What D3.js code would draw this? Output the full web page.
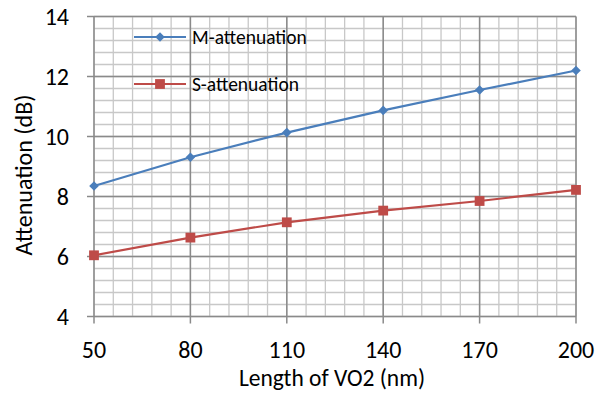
<!DOCTYPE html>
<html>
<head>
<meta charset="utf-8">
<script src="https://cdn.jsdelivr.net/npm/d3@7"></script>
<style>
  html, body { margin: 0; padding: 0; background: #fff; }
  svg text { font-family: Carlito, "Open Sans", "Noto Sans", sans-serif; fill: #000; }
</style>
</head>
<body>
<svg id="chart" width="598" height="394"></svg>
<script>
// data
const lengths = [50, 80, 110, 140, 170, 200];
const mAttenuation = [8.35, 9.31, 10.13, 10.87, 11.55, 12.2];
const sAttenuation = [6.04, 6.63, 7.14, 7.53, 7.85, 8.22];
const xTicks = [50, 80, 110, 140, 170, 200];
const yTicks = [4, 6, 8, 10, 12, 14];
const seriesNames = ["M-attenuation", "S-attenuation"];

const svg = d3.select("#chart");

// plot area
const x = d3.scaleLinear().domain([50, 200]).range([94, 576]);
const y = d3.scaleLinear().domain([4, 14]).range([316.5, 16.5]);

const grid = svg.append("g");

// minor grid (every 6 nm / 0.4 dB)
const xMinor = d3.range(50, 200.001, 6);
const yMinor = d3.range(4, 14.001, 0.4);
grid.selectAll(".xminor")
    .data(xMinor)
    .enter().append("line")
    .attr("x1", d => x(d)).attr("x2", d => x(d))
    .attr("y1", y(4)).attr("y2", y(14))
    .attr("stroke", "#c8c8c8").attr("stroke-width", 1.3);
grid.selectAll(".yminor")
    .data(yMinor)
    .enter().append("line")
    .attr("x1", x(50)).attr("x2", x(200))
    .attr("y1", d => y(d)).attr("y2", d => y(d))
    .attr("stroke", "#c8c8c8").attr("stroke-width", 1.3);

// major grid, with the tick stubs outside the plot
grid.selectAll(".xmajor")
    .data(xTicks)
    .enter().append("line")
    .attr("x1", d => x(d)).attr("x2", d => x(d))
    .attr("y1", y(14)).attr("y2", y(4) + 7)
    .attr("stroke", "#8a8a8a").attr("stroke-width", 1.5);
grid.selectAll(".ymajor")
    .data(yTicks)
    .enter().append("line")
    .attr("x1", x(50) - 7).attr("x2", x(200))
    .attr("y1", d => y(d)).attr("y2", d => y(d))
    .attr("stroke", "#8a8a8a").attr("stroke-width", 1.5);

// tick labels
svg.append("g").selectAll("text")
    .data(xTicks)
    .enter().append("text")
    .attr("x", d => x(d))
    .attr("y", 358)
    .attr("text-anchor", "middle")
    .style("font-size", "24px")
    .text(d => d);
svg.append("g").selectAll("text")
    .data(yTicks)
    .enter().append("text")
    .attr("x", 69)
    .attr("y", d => y(d) + 8)
    .attr("text-anchor", "end")
    .style("font-size", "24px")
    .text(d => d);

// axis titles
svg.append("text")
    .attr("x", x(125) - 3)
    .attr("y", 386)
    .attr("text-anchor", "middle")
    .style("font-size", "23.5px")
    .text("Length of VO2 (nm)");
svg.append("text")
    .attr("transform", "translate(32,175) rotate(-90)")
    .attr("text-anchor", "middle")
    .style("font-size", "24px")
    .text("Attenuation (dB)");

// series
const series = [
    { name: seriesNames[0], values: mAttenuation, color: "#4a7ebb", symbol: d3.symbolSquare, size: 46, rot: 45 },
    { name: seriesNames[1], values: sAttenuation, color: "#be4b48", symbol: d3.symbolSquare, size: 96, rot: 0 }
];
const line = d3.line().x(d => x(d[0])).y(d => y(d[1]));

series.forEach(s => {
    const pts = lengths.map((l, i) => [l, s.values[i]]);
    svg.append("path")
        .attr("d", line(pts))
        .attr("fill", "none")
        .attr("stroke", s.color)
        .attr("stroke-width", 2.2);
    svg.append("g").selectAll("path")
        .data(pts)
        .enter().append("path")
        .attr("transform", d => `translate(${x(d[0])},${y(d[1])}) rotate(${s.rot})`)
        .attr("d", d3.symbol().type(s.symbol).size(s.size))
        .attr("fill", s.color);
});

// legend
const legend = svg.append("g");
series.forEach((s, i) => {
    const ly = 37 + i * 47;
    legend.append("line")
        .attr("x1", 134).attr("x2", 186)
        .attr("y1", ly).attr("y2", ly)
        .attr("stroke", s.color).attr("stroke-width", 2.2);
    legend.append("path")
        .attr("transform", `translate(160,${ly}) rotate(${s.rot})`)
        .attr("d", d3.symbol().type(s.symbol).size(s.size))
        .attr("fill", s.color);
    legend.append("text")
        .attr("x", 192)
        .attr("y", ly + 6.5)
        .style("font-size", "19.5px")
        .text(s.name);
});
</script>
</body>
</html>
